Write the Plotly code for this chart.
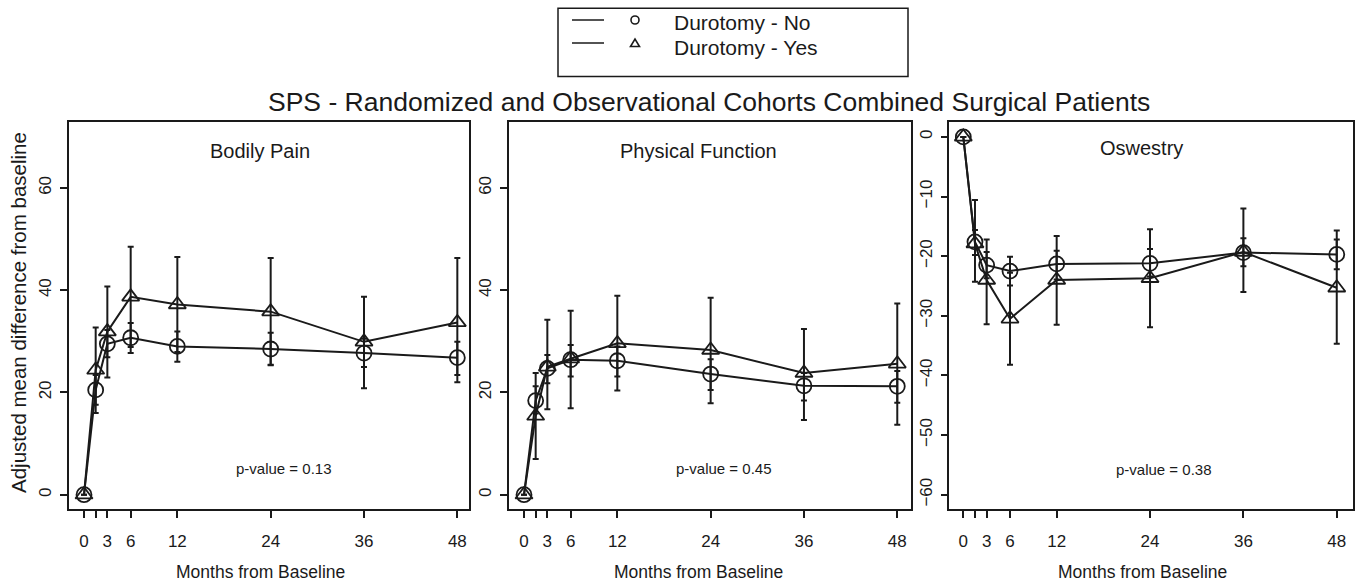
import plotly.graph_objects as go

W, H = 1363, 587

months = [0, 1.5, 3, 6, 12, 24, 36, 48]
tick_vals = [0, 1.5, 3, 6, 12, 24, 36, 48]
tick_text = ["0", "", "3", "6", "12", "24", "36", "48"]

# Bodily Pain
bp_no = [0, 20.5, 29.5, 30.7, 29.0, 28.5, 27.7, 26.8]
bp_no_lo = [0, 17.6, 26.9, 27.7, 26.0, 25.4, 25.0, 23.4]
bp_no_hi = [0, 23.4, 32.2, 33.6, 31.9, 31.7, 30.5, 29.9]
bp_yes = [0, 24.4, 31.9, 38.7, 37.2, 35.8, 29.9, 33.7]
bp_yes_lo = [0, 16.0, 22.9, 28.9, 27.9, 25.3, 20.8, 22.0]
bp_yes_hi = [0, 32.7, 40.7, 48.5, 46.5, 46.3, 38.7, 46.3]

# Physical Function
pf_no = [0, 18.4, 24.7, 26.4, 26.2, 23.6, 21.3, 21.2]
pf_no_lo = [0, 15.9, 21.8, 23.1, 23.1, 20.5, 18.4, 18.0]
pf_no_hi = [0, 21.2, 27.3, 29.3, 29.0, 26.5, 23.8, 24.2]
pf_yes = [0, 15.4, 25.0, 26.6, 29.6, 28.3, 23.8, 25.6]
pf_yes_lo = [0, 7.0, 16.7, 16.9, 20.4, 17.9, 14.6, 13.7]
pf_yes_hi = [0, 23.8, 34.2, 36.0, 38.9, 38.5, 32.4, 37.4]

# Oswestry
od_no = [0, -17.6, -21.5, -22.5, -21.3, -21.2, -19.4, -19.7]
od_no_lo = [0, -19.8, -23.7, -24.9, -23.9, -23.4, -21.7, -22.2]
od_no_hi = [0, -15.6, -19.3, -20.1, -19.1, -18.8, -17.0, -17.2]
od_yes = [0, -17.9, -24.0, -30.5, -24.0, -23.7, -19.3, -25.3]
od_yes_lo = [0, -24.3, -31.4, -38.2, -31.5, -31.9, -26.0, -34.7]
od_yes_hi = [0, -10.6, -17.2, -22.8, -16.6, -15.5, -12.0, -15.7]

panel_titles = ["Bodily Pain", "Physical Function", "Oswestry"]
p_values = ["p-value = 0.13", "p-value = 0.45", "p-value = 0.38"]
series_names = ["Durotomy - No", "Durotomy - Yes"]
main_title = "SPS - Randomized and Observational Cohorts Combined Surgical Patients"
y_title = "Adjusted mean difference from baseline"
x_title = "Months from Baseline"

FONT = "Liberation Sans, Arial, sans-serif"
INK = "#1a1a1a"


def px(x):
    return x / W


def py(y):
    return 1 - y / H


panels = [
    dict(no=(bp_no, bp_no_lo, bp_no_hi), yes=(bp_yes, bp_yes_lo, bp_yes_hi),
         xdom=(69, 469), xr=[-1.93, 49.5], yr=[-2.8, 72.9], yt=[0, 20, 40, 60],
         title_xy=(260, 151), p_xy=(284, 468), xt_x=260),
    dict(no=(pf_no, pf_no_lo, pf_no_hi), yes=(pf_yes, pf_yes_lo, pf_yes_hi),
         xdom=(509, 910.5), xr=[-1.93, 49.7], yr=[-2.8, 72.9], yt=[0, 20, 40, 60],
         title_xy=(699, 151), p_xy=(724, 468), xt_x=699),
    dict(no=(od_no, od_no_lo, od_no_hi), yes=(od_yes, od_yes_lo, od_yes_hi),
         xdom=(949.3, 1352.7), xr=[-1.8, 50.05], yr=[-62.4, 2.5],
         yt=[0, -10, -20, -30, -40, -50, -60],
         title_xy=(1141, 148), p_xy=(1164, 469), xt_x=1142),
]

fig = go.Figure()
layout = {}
annotations = []
shapes = []
ydom = [py(509), py(122)]

for i, p in enumerate(panels):
    k = "" if i == 0 else str(i + 1)
    xa, ya = "x" + k, "y" + k
    for sname, key, sym in [(series_names[0], "no", "circle-open"),
                            (series_names[1], "yes", "triangle-up-open")]:
        vals, lo, hi = p[key]
        plus = [h - v for h, v in zip(hi, vals)]
        minus = [v - l for v, l in zip(vals, lo)]
        fig.add_trace(go.Scatter(
            x=months, y=vals, mode="lines+markers", name=sname,
            legendgroup=sname, showlegend=False,
            xaxis=xa, yaxis=ya,
            line=dict(color=INK, width=2),
            marker=dict(symbol=sym, size=15, color=INK, line=dict(width=1.8, color=INK)),
            error_y=dict(type="data", symmetric=False, array=plus, arrayminus=minus,
                         color=INK, thickness=2, width=3),
        ))
    axcommon = dict(showline=True, linecolor=INK, linewidth=1.5, mirror=True,
                    showgrid=False, zeroline=False, ticks="outside", ticklen=7,
                    tickwidth=1.5, tickcolor=INK,
                    tickfont=dict(family=FONT, size=17, color=INK))
    layout["xaxis" + k] = dict(axcommon, domain=[px(p["xdom"][0]), px(p["xdom"][1])],
                               range=p["xr"], tickvals=tick_vals, ticktext=tick_text,
                               anchor=ya, ticklabelstandoff=9)
    layout["yaxis" + k] = dict(axcommon, domain=ydom, range=p["yr"], tickvals=p["yt"],
                               tickangle=-90, anchor=xa, ticklabelstandoff=2)
    annotations.append(dict(text=panel_titles[i], x=px(p["title_xy"][0]), y=py(p["title_xy"][1]),
                            xref="paper", yref="paper", showarrow=False,
                            xanchor="center", yanchor="middle",
                            font=dict(family=FONT, size=20, color=INK)))
    annotations.append(dict(text=p_values[i], x=px(p["p_xy"][0]), y=py(p["p_xy"][1]),
                            xref="paper", yref="paper", showarrow=False,
                            xanchor="center", yanchor="middle",
                            font=dict(family=FONT, size=15, color=INK)))
    annotations.append(dict(text=x_title, x=px(p["xt_x"]), y=py(572),
                            xref="paper", yref="paper", showarrow=False,
                            xanchor="center", yanchor="middle",
                            font=dict(family=FONT, size=17.5, color=INK)))

annotations.append(dict(text=main_title, x=px(709), y=py(102), xref="paper", yref="paper",
                        showarrow=False, xanchor="center", yanchor="middle",
                        font=dict(family=FONT, size=26.5, color=INK)))
annotations.append(dict(text=y_title, x=px(18), y=py(313), xref="paper", yref="paper",
                        showarrow=False, xanchor="center", yanchor="middle", textangle=-90,
                        font=dict(family=FONT, size=20.5, color=INK)))

# legend (box, line keys, symbol keys, labels)
shapes.append(dict(type="rect", xref="paper", yref="paper",
                   x0=px(558), x1=px(908), y0=py(76.5), y1=py(8.3),
                   line=dict(color=INK, width=1.5)))
legend_rows = [20, 43]
legend_text_rows = [22.5, 47.5]
for j, (name, row, trow) in enumerate(zip(series_names, legend_rows, legend_text_rows)):
    shapes.append(dict(type="line", xref="paper", yref="paper",
                       x0=px(572), x1=px(604), y0=py(row), y1=py(row),
                       line=dict(color=INK, width=1.5)))
    if j == 0:
        shapes.append(dict(type="circle", xref="paper", yref="paper",
                           x0=px(631), x1=px(639), y0=py(row + 4), y1=py(row - 4),
                           line=dict(color=INK, width=1.6)))
    else:
        path = "M {} {} L {} {} L {} {} Z".format(px(630.5), py(row + 3.5), px(639.5), py(row + 3.5),
                                                  px(635), py(row - 4))
        shapes.append(dict(type="path", xref="paper", yref="paper", path=path,
                           line=dict(color=INK, width=1.6)))
    annotations.append(dict(text=name, x=px(673), y=py(trow), xref="paper", yref="paper",
                            showarrow=False, xanchor="left", yanchor="middle", borderpad=0,
                            font=dict(family=FONT, size=21, color=INK)))

fig.update_layout(
    width=W, height=H,
    margin=dict(l=0, r=0, t=0, b=0),
    paper_bgcolor="white", plot_bgcolor="white",
    annotations=annotations,
    shapes=shapes,
    showlegend=False,
    **layout,
)

fig.write_html("out.html", config={"displayModeBar": False},
               post_script="document.body.style.margin='0';")
